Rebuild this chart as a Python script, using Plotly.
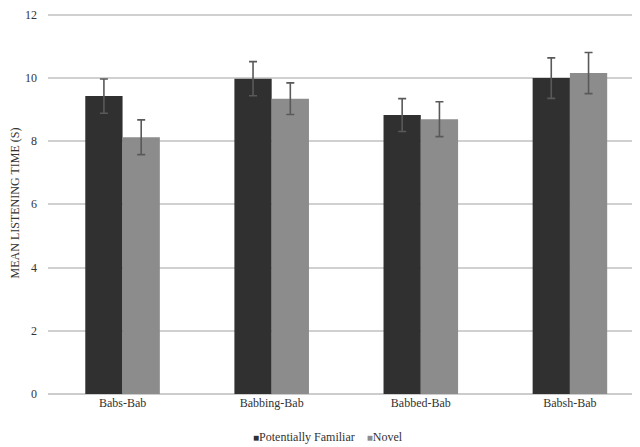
import plotly.graph_objects as go

categories = ["Babs-Bab", "Babbing-Bab", "Babbed-Bab", "Babsh-Bab"]
series_names = ["Potentially Familiar", "Novel"]
familiar = [9.42, 9.97, 8.82, 9.99]
familiar_err = [0.54, 0.54, 0.52, 0.64]
novel = [8.12, 9.34, 8.69, 10.15]
novel_err = [0.55, 0.50, 0.55, 0.65]
y_ticks = [0, 2, 4, 6, 8, 10, 12]

FONT = "Liberation Serif"
colors = ["#303030", "#8c8c8c"]
err_style = dict(type="data", visible=True, color="#595959", thickness=1.6, width=4)

fig = go.Figure()
fig.add_trace(go.Bar(
    name=series_names[0], x=categories, y=familiar,
    marker=dict(color=colors[0], line=dict(width=0)),
    error_y=dict(array=familiar_err, **err_style),
))
fig.add_trace(go.Bar(
    name=series_names[1], x=categories, y=novel,
    marker=dict(color=colors[1], line=dict(width=0)),
    error_y=dict(array=novel_err, **err_style),
))

legend_text = (
    f"<span style='color:{colors[0]};font-size:10px'>■</span>{series_names[0]}"
    f"&nbsp;&nbsp;&nbsp;&nbsp;"
    f"<span style='color:{colors[1]};font-size:10px'>■</span>{series_names[1]}"
)
fig.add_annotation(text=legend_text, xref="paper", yref="paper", x=0.473, y=-0.1125,
                   xanchor="center", yanchor="middle", showarrow=False,
                   font=dict(family=FONT, size=12, color="#333333"))

# page body has an 8px default margin, so the figure is sized to end at the window edge
fig.update_layout(
    width=632, height=439,
    margin=dict(l=40, r=0, t=4, b=53, autoexpand=False),
    paper_bgcolor="white", plot_bgcolor="white",
    barmode="group", bargap=0.5, bargroupgap=0,
    font=dict(family=FONT, size=12, color="#333333"),
    showlegend=False,
    xaxis=dict(range=[-0.5, 3.47], showgrid=False, showline=False, ticks="",
               automargin=False,
               tickfont=dict(family=FONT, size=12, color="#333333")),
    yaxis=dict(range=[0, 12.08], tickvals=y_ticks, showgrid=True, gridcolor="#d0d0d0",
               gridwidth=1.5, zeroline=True, zerolinecolor="#cccccc", zerolinewidth=1.5,
               showline=False, ticks="", ticklabelstandoff=10, automargin=False,
               ticklabeloverflow="allow",
               tickfont=dict(family=FONT, size=12, color="#333333"),
               title=dict(text="MEAN LISTENING TIME (S)", standoff=14,
                          font=dict(family=FONT, size=12, color="#333333"))),
)

fig.write_html("out.html")
